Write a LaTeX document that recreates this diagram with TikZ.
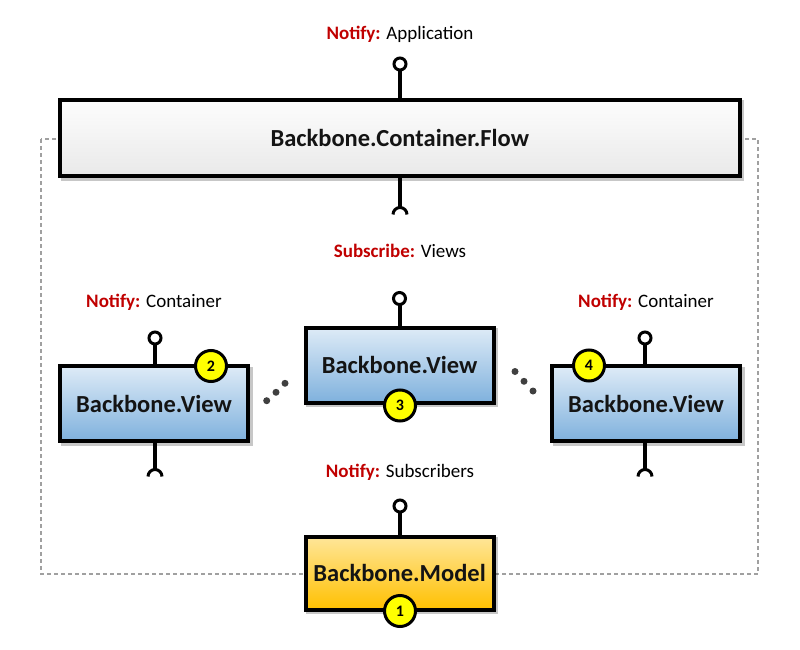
\documentclass[tikz,border=0pt]{standalone}
\usepackage{fontspec}
\setmainfont{Carlito}
\usetikzlibrary{calc}
\definecolor{vtop}{HTML}{DEEBF7}
\definecolor{vbot}{HTML}{7FB1DD}
\definecolor{mtop}{HTML}{FFE699}
\definecolor{mbot}{HTML}{FFC000}
\definecolor{ftop}{HTML}{FDFDFD}
\definecolor{fbot}{HTML}{E9E9E9}
\definecolor{nred}{HTML}{C00000}
\definecolor{dashc}{HTML}{A0A0A0}
\definecolor{badgey}{HTML}{FFFF00}
\begin{document}
\begin{tikzpicture}[x=1pt,y=-1pt,
  box/.style={draw=black, line width=4pt, inner sep=0pt, outer sep=0pt,
    font=\fontsize{24.5}{28}\selectfont\bfseries, text=black!92,
    minimum width=188pt, minimum height=75pt},
  flowbox/.style={box, top color=ftop, bottom color=fbot, minimum width=679.5pt, minimum height=76pt},
  viewbox/.style={box, top color=vtop, bottom color=vbot},
  modelbox/.style={box, top color=mtop, bottom color=mbot, minimum height=73pt},
  lolli/.style={circle, draw=black, fill=white, line width=3pt, minimum size=12pt, inner sep=0pt, outer sep=0pt},
  stem/.style={line width=4pt},
  sock/.style={line width=3pt},
  badge/.style={circle, draw=black, fill=badgey, line width=3pt, minimum size=31pt,
    inner sep=0pt, font=\fontsize{16}{18}\selectfont\bfseries},
  lbl/.style={font=\fontsize{19}{22}\selectfont, inner sep=0pt, anchor=base},
  shadowc/.style={fill=black, opacity=0.22},
  dotn/.style={circle, fill=black!75, minimum size=7pt, inner sep=0pt},
  frame/.style={draw=dashc, line width=2.5pt, dash pattern=on 4pt off 3pt}
]
\useasboundingbox (0,0) rectangle (800,650);

% dashed frame
\draw[frame] (41,139) rectangle (758,574);

% nodes (positions)
\coordinate (pFlow) at (399.75,138);
\coordinate (pV1) at (154,403.5);
\coordinate (pV2) at (399.6,365);
\coordinate (pV3) at (646,403.7);
\coordinate (pM) at (399.6,573.3);

% shadows
\fill[shadowc] ($(pFlow)+(-339.75+0.5,-38+0.5)$) rectangle ($(pFlow)+(339.75+4.5,38+4.5)$);
\fill[shadowc] ($(pV1)+(-94+0.5,-37.5+0.5)$) rectangle ($(pV1)+(94+4.5,37.5+4.5)$);
\fill[shadowc] ($(pV2)+(-94+0.5,-37.5+0.5)$) rectangle ($(pV2)+(94+4.5,37.5+4.5)$);
\fill[shadowc] ($(pV3)+(-94+0.5,-37.5+0.5)$) rectangle ($(pV3)+(94+4.5,37.5+4.5)$);
\fill[shadowc] ($(pM)+(-94+0.5,-36.5+0.5)$) rectangle ($(pM)+(94+4.5,36.5+4.5)$);

\node[flowbox] (flow) at (pFlow) {Backbone.Container.Flow};
\node[viewbox] (v1) at (pV1) {Backbone.View};
\node[viewbox] (v2) at (pV2) {Backbone.View};
\node[viewbox] (v3) at (pV3) {Backbone.View};
\node[modelbox] (model) at (pM) {Backbone.Model};

% lollipops
\node[lolli] (lFlow) at (400,64) {};
\node[lolli] (lV1) at (155,338) {};
\node[lolli] (lV2) at (399.5,298.5) {};
\node[lolli] (lV3) at (645,338) {};
\node[lolli] (lM) at (400,506) {};
\draw[stem] (lFlow.south) -- (lFlow.south |- flow.north);
\draw[stem] (lV1.south) -- (lV1.south |- v1.north);
\draw[stem] (lV2.south) -- (lV2.south |- v2.north);
\draw[stem] (lV3.south) -- (lV3.south |- v3.north);
\draw[stem] (lM.south) -- (lM.south |- model.north);

% sockets
\coordinate (sFlow) at (400,207);
\coordinate (sV1) at (155,469);
\coordinate (sV3) at (645,469);
\draw[stem] (sFlow |- flow.south) -- (sFlow);
\draw[stem] (sV1 |- v1.south) -- (sV1);
\draw[stem] (sV3 |- v3.south) -- (sV3);
\draw[sock] ($(sFlow)+(-7,7.5)$) arc[start angle=180, end angle=360, radius=7];
\draw[sock] ($(sV1)+(-7,7.5)$) arc[start angle=180, end angle=360, radius=7];
\draw[sock] ($(sV3)+(-7,7.5)$) arc[start angle=180, end angle=360, radius=7];

% badges
\node[badge] (b1) at (400,611) {1};
\node[badge] (b2) at (211,366) {2};
\node[badge] (b3) at (400,405.5) {3};
\node[badge] (b4) at (589,365.5) {4};

% ellipsis dots
\node[dotn] (d1) at (266.7,400.7) {};
\node[dotn] (d2) at (276,392.3) {};
\node[dotn] (d3) at (285,383.3) {};
\node[dotn] (d4) at (515,371.5) {};
\node[dotn] (d5) at (524,381.3) {};
\node[dotn] (d6) at (533,391) {};

% labels
\node[lbl] (tFlow) at (400,40) {\textcolor{nred}{\bfseries Notify:} Application};
\node[lbl] (tV2) at (400,257) {\textcolor{nred}{\bfseries Subscribe:} Views};
\node[lbl] (tV1) at (154,307) {\textcolor{nred}{\bfseries Notify:} Container};
\node[lbl] (tV3) at (646,307) {\textcolor{nred}{\bfseries Notify:} Container};
\node[lbl] (tM) at (400,477) {\textcolor{nred}{\bfseries Notify:} Subscribers};
\end{tikzpicture}
\end{document}
